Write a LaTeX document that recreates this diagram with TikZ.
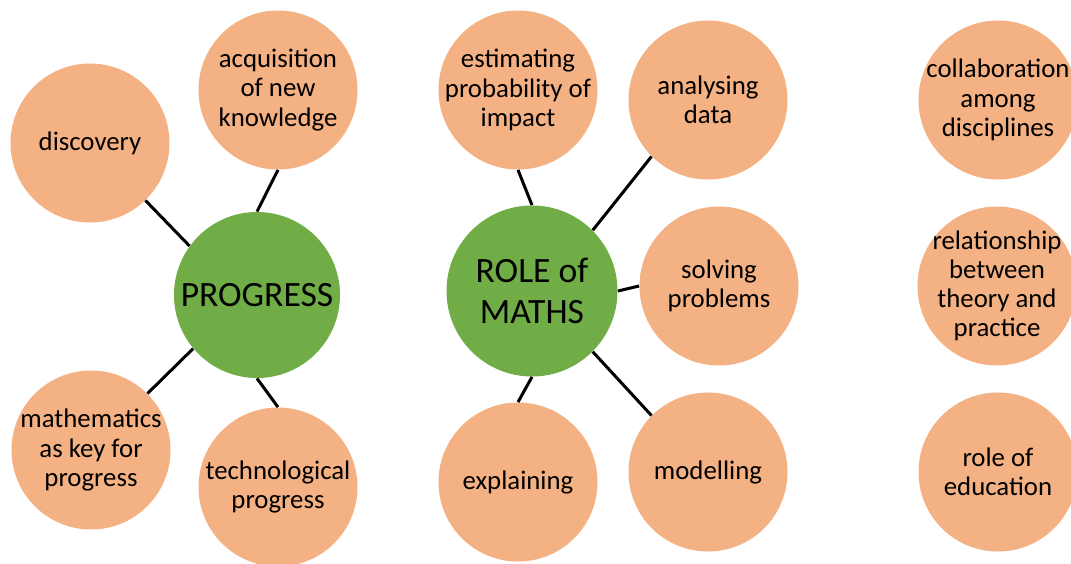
\documentclass[tikz,border=0pt]{standalone}
\usepackage{fontspec}
\setmainfont{Carlito}
\usepackage{tikz}

\definecolor{peach}{HTML}{F4B183}
\definecolor{leaf}{HTML}{70AD47}

\begin{document}
\begin{tikzpicture}[x=0.5pt,y=-0.5pt,
  % negative inner sep: the circle keeps its size, wide text may reach the rim
  idea/.style={circle,fill=peach,minimum size=79.5pt,inner sep=-12pt,align=center,
    font=\fontsize{13.4}{14.6}\selectfont},
  hub/.style={circle,fill=leaf,inner sep=0pt,align=center,
    font=\fontsize{17.8}{20.5}\selectfont},
  link/.style={line width=1.5pt}]
\useasboundingbox (0,0) rectangle (1071,563);
% first hub
\node[hub,minimum size=83pt] (prog) at (257,295) {PROGRESS};
\node[idea] (disc) at (90,143) {discovery};
\node[idea] (acq) at (278,90) {acquisition\\of new\\knowledge};
\node[idea] (key) at (91,450) {mathematics\\as key for\\progress};
\node[idea] (tech) at (278,487) {technological\\progress};
\draw[link] (disc.-46) -- (prog.144);
\draw[link] (acq.south) -- (prog.north);
\draw[link] (key.45) -- (prog.220);
\draw[link] (prog.south) -- (tech.north);
% second hub
\node[hub,minimum size=85.5pt] (role) at (532,291) {ROLE of\\MATHS};
\node[idea] (est) at (518,90) {estimating\\probability of\\impact};
\node[idea] (data) at (708,100) {analysing\\data};
\node[idea] (solve) at (719,286) {solving\\problems};
\node[idea] (expl) at (518,482) {explaining};
\node[idea] (model) at (708,472) {modelling};
\draw[link] (est.south) -- (role.north);
\draw[link] (data.south west) -- (role.north east);
\draw[link] (role.east) -- (solve.west);
\draw[link] (role.south) -- (expl.north);
\draw[link] (role.south east) -- (model.north west);
% loose ideas on the right
\node[idea] (collab) at (998,100) {collaboration\\among\\disciplines};
\node[idea] (theory) at (997,286) {relationship\\between\\theory and\\practice};
\node[idea] (edu) at (998,472) {role of\\education};
\end{tikzpicture}
\end{document}
